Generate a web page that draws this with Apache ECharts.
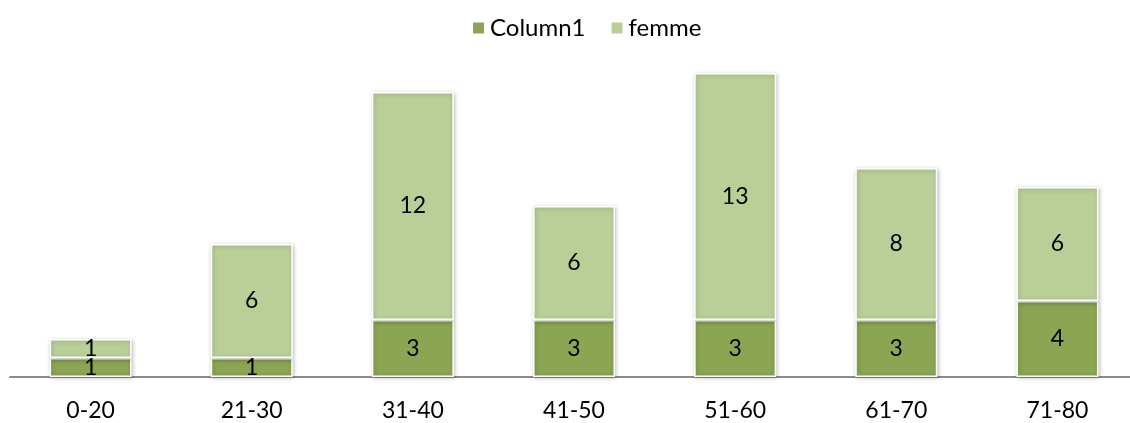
<!DOCTYPE html>
<html><head><meta charset="utf-8">
<script src="https://cdn.jsdelivr.net/npm/echarts@6/dist/echarts.min.js"></script>
<style>html,body{margin:0;padding:0;background:#fff;overflow:hidden}#c{width:1140px;height:423px}</style>
</head><body><div id="c"></div>
<script>
var categories = ['0-20','21-30','31-40','41-50','51-60','61-70','71-80'];
var column1 = [1,1,3,3,3,3,4];
var femme = [1,6,12,6,13,8,6];
var seriesNames = ['Column1','femme'];
var FONT = 'Lato, "Open Sans", sans-serif';
var chart = echarts.init(document.getElementById('c'), null, {renderer:'canvas'});
function mk(name, data, color){
  return {
    name:name, type:'bar', stack:'s', data:data, barWidth:82,
    itemStyle:{color:color, borderColor:'#fff', borderWidth:1.5, shadowColor:'rgba(0,0,0,0.25)', shadowBlur:4, shadowOffsetX:1, shadowOffsetY:1},
    label:{show:true, position:'inside', color:'#000', fontSize:23, fontFamily:FONT}
  };
}
chart.setOption({
  animation:false,
  textStyle:{fontFamily:FONT},
  legend:{top:11, left:466, itemWidth:13, itemHeight:13, itemGap:24, icon:'rect',
    textStyle:{fontSize:24, color:'#000', fontFamily:FONT}, data:seriesNames},
  grid:{left:10, width:1128, top:35, bottom:46, containLabel:false},
  xAxis:{type:'category', data:categories,
    axisLine:{lineStyle:{color:'#8c8c8c', width:2}}, axisTick:{show:false},
    axisLabel:{color:'#000', fontSize:23, margin:22, fontFamily:FONT}},
  yAxis:{type:'value', min:0, max:18, show:false, splitLine:{show:false}},
  series:[mk(seriesNames[0], column1, '#8BA552'), mk(seriesNames[1], femme, '#BACF98')]
});
</script></body></html>
